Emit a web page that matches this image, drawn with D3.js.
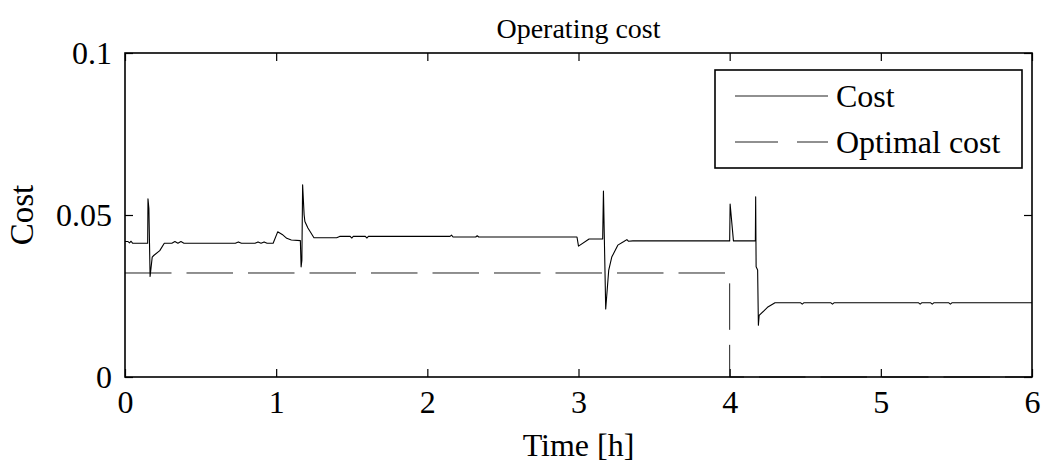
<!DOCTYPE html>
<html>
<head>
<meta charset="utf-8">
<script src="https://cdn.jsdelivr.net/npm/d3@7"></script>
<style>
  body{margin:0;background:#fff;}
  svg text{font-family:"Liberation Serif","Times New Roman",serif;fill:#000;}
</style>
</head>
<body>
<svg id="chart" width="1046" height="467"></svg>
<script>
/* ---------- DATA ---------- */
const costTime = [
  0, 0.02, 0.03, 0.04, 0.05, 0.15, 0.152, 0.158, 0.166, 0.18, 0.19, 0.23, 0.26,
  0.31, 0.33, 0.35, 0.37, 0.39, 0.42, 0.73, 0.75, 0.77, 0.86, 0.88, 0.90, 0.92, 0.94,
  0.98, 1.01, 1.04, 1.07, 1.10, 1.16, 1.165, 1.17, 1.175, 1.185, 1.19, 1.21, 1.25,
  1.40, 1.42, 1.49, 1.50, 1.51, 1.59, 1.60, 1.61, 2.15, 2.16, 2.17, 2.32, 2.33, 2.34,
  2.99, 3.00, 3.07, 3.16, 3.165, 3.18, 3.20, 3.22, 3.26, 3.30, 3.32, 3.33, 3.36,
  4.00, 4.003, 4.025, 4.17, 4.172, 4.175, 4.185, 4.19, 4.195, 4.25, 4.30,
  4.47, 4.48, 4.49, 4.67, 4.68, 4.69, 5.25, 5.26, 5.27, 5.33, 5.34, 5.35, 5.45, 5.46, 5.47, 6
];
const costValue = [
  0.0418, 0.0418, 0.0414, 0.0419, 0.0413, 0.0413, 0.0550, 0.0520, 0.0310, 0.0370, 0.0375, 0.0390, 0.0413,
  0.0413, 0.0418, 0.0413, 0.0418, 0.0413, 0.0413, 0.0413, 0.0417, 0.0413, 0.0413, 0.0417, 0.0413, 0.0417, 0.0413,
  0.0413, 0.0448, 0.0440, 0.0428, 0.0423, 0.0421, 0.0340, 0.0360, 0.0593, 0.0500, 0.0480, 0.0460, 0.0430,
  0.0430, 0.0434, 0.0434, 0.0429, 0.0434, 0.0434, 0.0429, 0.0434, 0.0434, 0.0438, 0.0432, 0.0432, 0.0436, 0.0432,
  0.0432, 0.0404, 0.0426, 0.0426, 0.0574, 0.0210, 0.0330, 0.0370, 0.0407, 0.0418, 0.0424, 0.0419, 0.0420,
  0.0420, 0.0534, 0.0420, 0.0420, 0.0556, 0.0340, 0.0330, 0.0160, 0.0190, 0.0215, 0.0229,
  0.0229, 0.0225, 0.0229, 0.0229, 0.0225, 0.0229, 0.0229, 0.0225, 0.0229, 0.0229, 0.0225, 0.0229, 0.0229, 0.0225, 0.0229, 0.0229
];
const optimalTime  = [0, 4, 4, 6];
const optimalValue = [0.0321, 0.0321, 0, 0];
const xTicks = [0, 1, 2, 3, 4, 5, 6];
const yTicks = [0, 0.05, 0.1];
const seriesNames = ["Cost", "Optimal cost"];

/* ---------- LAYOUT ---------- */
const M = {left:125, right:1032, top:53, bottom:377};
const svg = d3.select("#chart");

const x = d3.scaleLinear().domain([0,6]).range([M.left, M.right]);
const y = d3.scaleLinear().domain([0,0.1]).range([M.bottom, M.top]);

const line = d3.line().x(d=>x(d[0])).y(d=>y(d[1]));
const costData = costTime.map((t,i)=>[t,costValue[i]]);
const optData  = optimalTime.map((t,i)=>[t,optimalValue[i]]);

/* ---------- AXES (inside ticks, matlab style) ---------- */
const fmtY = d=>d===0?"0":String(+d.toFixed(2));
const axB = svg.append("g").attr("transform",`translate(0,${M.bottom})`)
  .call(d3.axisBottom(x).tickValues(xTicks).tickSizeInner(-8).tickSizeOuter(0).tickPadding(13).tickFormat(d3.format("d")));
const axT = svg.append("g").attr("transform",`translate(0,${M.top})`)
  .call(d3.axisTop(x).tickValues(xTicks).tickSizeInner(-8).tickSizeOuter(0).tickFormat(""));
const axL = svg.append("g").attr("transform",`translate(${M.left},0)`)
  .call(d3.axisLeft(y).tickValues(yTicks).tickSizeInner(-8).tickSizeOuter(0).tickPadding(13).tickFormat(fmtY));
const axR = svg.append("g").attr("transform",`translate(${M.right},0)`)
  .call(d3.axisRight(y).tickValues(yTicks).tickSizeInner(-8).tickSizeOuter(0).tickFormat(""));

[axB,axT,axL,axR].forEach(a=>{
  a.select(".domain").remove();
  a.selectAll("line").attr("stroke","#000").attr("stroke-width",1.2);
  a.selectAll("text").style("font-size","32px").attr("font-family",null);
});
axB.selectAll("text").attr("dy","0.72em");

/* ---------- LINES ---------- */
svg.append("path").datum(optData)
  .attr("fill","none").attr("stroke","#222").attr("stroke-width",1)
  .attr("stroke-dasharray","46.5,15")
  .attr("d",line);

svg.append("path").datum(costData)
  .attr("fill","none").attr("stroke","#000").attr("stroke-width",1.1)
  .attr("stroke-linejoin","round")
  .attr("d",line);

/* frame */
svg.append("rect")
  .attr("x",M.left).attr("y",M.top)
  .attr("width",M.right-M.left).attr("height",M.bottom-M.top)
  .attr("fill","none").attr("stroke","#000").attr("stroke-width",1.6);

/* ---------- TEXT ---------- */
svg.append("text").attr("x",(M.left+M.right)/2).attr("y",38)
  .attr("text-anchor","middle").style("font-size","28px").text("Operating cost");
svg.append("text").attr("x",(M.left+M.right)/2).attr("y",456)
  .attr("text-anchor","middle").style("font-size","32px").text("Time [h]");
svg.append("text").attr("transform",`translate(33,${(M.top+M.bottom)/2}) rotate(-90)`)
  .attr("text-anchor","middle").style("font-size","33px").text("Cost");

/* ---------- LEGEND ---------- */
const lg = svg.append("g");
lg.append("rect").attr("x",715).attr("y",70).attr("width",307).attr("height",98)
  .attr("fill","#fff").attr("stroke","#000").attr("stroke-width",1.6);
const rows = lg.selectAll("g.row").data(seriesNames).enter().append("g")
  .attr("transform",(d,i)=>`translate(0,${96+i*46})`);
rows.append("line").attr("x1",735).attr("x2",828).attr("y1",0).attr("y2",0)
  .attr("stroke","#222").attr("stroke-width",1.1)
  .attr("stroke-dasharray",(d,i)=>i===0?null:"43,19");
rows.append("text").attr("x",836).attr("y",11).style("font-size","32px").text(d=>d);
</script>
</body>
</html>
